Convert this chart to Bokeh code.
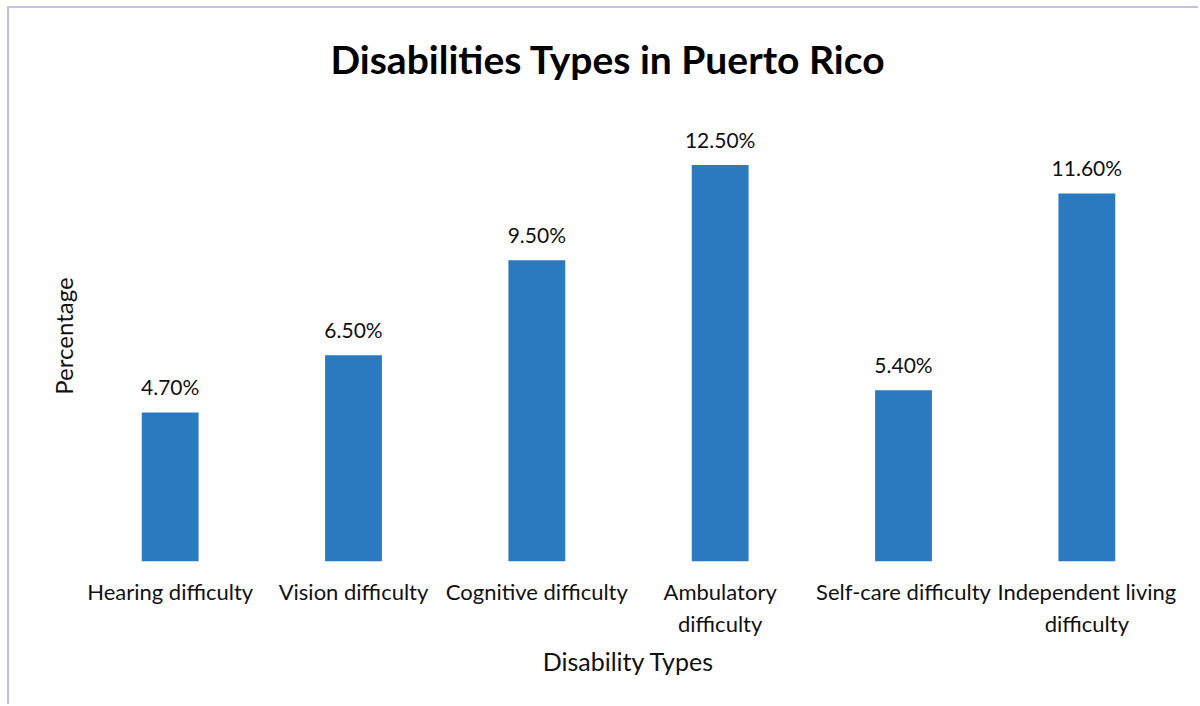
from bokeh.plotting import figure
from bokeh.models import ColumnDataSource, LabelSet, Range1d, FixedTicker
from bokeh.core.properties import value
from bokeh.embed import file_html
from bokeh.resources import INLINE

categories = ["Hearing difficulty", "Vision difficulty", "Cognitive difficulty",
              "Ambulatory difficulty", "Self-care difficulty", "Independent living difficulty"]
tick_labels = ["Hearing difficulty", "Vision difficulty", "Cognitive difficulty",
               "Ambulatory\ndifficulty", "Self-care difficulty", "Independent living\ndifficulty"]
values = [4.7, 6.5, 9.5, 12.5, 5.4, 11.6]
value_labels = ["4.70%", "6.50%", "9.50%", "12.50%", "5.40%", "11.60%"]

FONT = "Lato"
BAR = "#2B7AC0"
TXT = "#111111"

positions = list(range(len(categories)))
src = ColumnDataSource(dict(x=positions, cat=categories, val=values, lab=value_labels))

p = figure(width=1191, height=698, x_range=Range1d(-0.5, len(categories) - 0.5),
           y_range=Range1d(0, 14.22),
           output_backend="svg", toolbar_location=None,
           min_border_left=69, min_border_right=22, min_border_top=97, min_border_bottom=145)
p.margin = (6, 0, 0, 7)
p.styles = {"border-left": "2px solid #C5BFEA", "border-top": "2px solid #C5BFEA"}
p.background_fill_color = "white"
p.border_fill_color = "white"
p.outline_line_color = None
p.grid.grid_line_color = None

p.title.text = "Disabilities Types in Puerto Rico"
p.title.align = "left"
p.title.vertical_align = "top"
p.title.offset = 252
p.title.standoff = 54
p.title.text_font = FONT
p.title.text_font_size = "39px"
p.title.text_font_style = "bold"
p.title.text_color = "#000000"

p.vbar(x="x", top="val", width=0.31, source=src, fill_color=BAR, line_color=None)

p.add_layout(LabelSet(x="x", y="val", text="lab", source=src, text_align="center",
                      text_baseline="middle", y_offset=26, text_font=value(FONT),
                      text_font_size="21px", text_color=TXT))

p.xaxis.ticker = FixedTicker(ticks=positions)
p.xaxis.major_label_overrides = {i: t for i, t in zip(positions, tick_labels)}
p.xaxis.axis_line_color = None
p.xaxis.major_tick_line_color = None
p.xaxis.minor_tick_line_color = None
p.xaxis.major_label_text_font = FONT
p.xaxis.major_label_text_font_size = "22px"
p.xaxis.major_label_text_color = TXT
p.xaxis.major_label_text_align = "center"
p.xaxis.major_label_standoff = 10
p.xaxis.axis_label = "Disability Types"
p.xaxis.axis_label_text_font = FONT
p.xaxis.axis_label_text_font_size = "25px"
p.xaxis.axis_label_text_font_style = "normal"
p.xaxis.axis_label_text_color = TXT
p.xaxis.axis_label_standoff = 6

p.yaxis.ticker = FixedTicker(ticks=[])
p.yaxis.axis_line_color = None
p.yaxis.major_tick_line_color = None
p.yaxis.minor_tick_line_color = None
p.yaxis.axis_label = "Percentage"
p.yaxis.axis_label_text_font = FONT
p.yaxis.axis_label_text_font_size = "24px"
p.yaxis.axis_label_text_font_style = "normal"
p.yaxis.axis_label_text_color = TXT
p.yaxis.axis_label_standoff = 1

open("out.html", "w").write(file_html(p, INLINE))
